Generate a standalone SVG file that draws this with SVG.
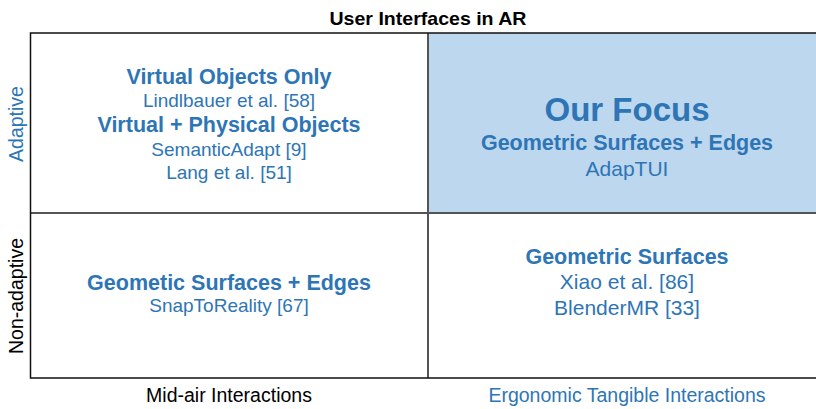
<svg xmlns="http://www.w3.org/2000/svg" width="816" height="409" viewBox="0 0 816 409">
<style>
text{font-family:"Liberation Sans",Arial,sans-serif;text-anchor:middle}
.b{fill:#2E75B6;font-weight:bold;font-size:21.5px}
.n{fill:#2E75B6;font-size:19px}
.r{font-size:21px}
.ax{font-size:19.5px}
.blue{fill:#2E75B6}
.grid{stroke:#555;stroke-width:2;fill:none}
</style>
<rect width="816" height="409" fill="#fff"/>
<text x="428" y="25" textLength="197" lengthAdjust="spacingAndGlyphs" style="font-weight:bold;font-size:19px">User Interfaces in AR</text>
<g id="q-adaptive-tangible"><rect x="428" y="33" width="392" height="180" fill="#BDD7EE"/>
<text x="627" y="121" class="b" style="font-size:33px">Our Focus</text>
<text x="627" y="150" class="b">Geometric Surfaces + Edges</text>
<text x="627" y="176" class="n r">AdapTUI</text></g>
<g id="q-adaptive-midair">
<text x="229" y="84" class="b">Virtual Objects Only</text>
<text x="229" y="107" class="n">Lindlbauer et al. [58]</text>
<text x="229" y="132" class="b">Virtual + Physical Objects</text>
<text x="229" y="156" class="n">SemanticAdapt [9]</text>
<text x="229" y="179" class="n">Lang et al. [51]</text></g>
<g id="q-nonadaptive-midair">
<text x="229" y="290" class="b">Geometic Surfaces + Edges</text>
<text x="229" y="312" class="n">SnapToReality [67]</text></g>
<g id="q-nonadaptive-tangible">
<text x="627" y="264" class="b">Geometric Surfaces</text>
<text x="627" y="289" class="n r">Xiao et al. [86]</text>
<text x="627" y="315" class="n r">BlenderMR [33]</text></g>
<g id="frame">
<line x1="30" y1="213" x2="820" y2="213" class="grid"/>
<line x1="428" y1="33" x2="428" y2="378" class="grid"/>
<path d="M820 33H30.5V378H820" fill="none" stroke="#111" stroke-width="1.5"/></g>
<text class="ax blue" transform="translate(23,124) rotate(-90)">Adaptive</text>
<text class="ax" transform="translate(23,296) rotate(-90)">Non-adaptive</text>
<text x="229" y="402" class="ax">Mid-air Interactions</text>
<text x="627" y="402" class="ax blue">Ergonomic Tangible Interactions</text>
</svg>
